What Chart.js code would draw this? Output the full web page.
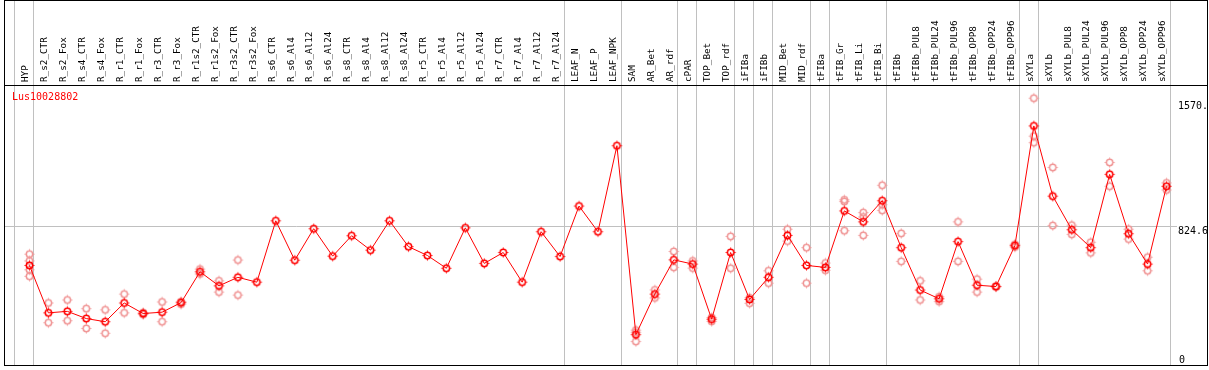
<!DOCTYPE html>
<html><head><meta charset="utf-8">
<script src="https://cdn.jsdelivr.net/npm/chart.js@4.4.1/dist/chart.umd.min.js"></script>
<style>html,body{margin:0;padding:0;background:#fff;overflow:hidden}#wrap{width:1209px;height:370px;position:relative}</style>
</head><body><div id="wrap"><canvas id="c"></canvas></div>
<script>
const geneTitle = 'Lus10028802';
const categories = ['HYP','R_s2_CTR','R_s2_Fox','R_s4_CTR','R_s4_Fox','R_r1_CTR','R_r1_Fox','R_r3_CTR','R_r3_Fox','R_r1s2_CTR','R_r1s2_Fox','R_r3s2_CTR','R_r3s2_Fox','R_s6_CTR','R_s6_Al4','R_s6_Al12','R_s6_Al24','R_s8_CTR','R_s8_Al4','R_s8_Al12','R_s8_Al24','R_r5_CTR','R_r5_Al4','R_r5_Al12','R_r5_Al24','R_r7_CTR','R_r7_Al4','R_r7_Al12','R_r7_Al24','LEAF_N','LEAF_P','LEAF_NPK','SAM','AR_Bet','AR_rdf','cPAR','TOP_Bet','TOP_rdf','iFIBa','iFIBb','MID_Bet','MID_rdf','tFIBa','tFIB_Gr','tFIB_Li','tFIB_Bi','tFIBb','tFIBb_PUL8','tFIBb_PUL24','tFIBb_PUL96','tFIBb_OPP8','tFIBb_OPP24','tFIBb_OPP96','sXYLa','sXYLb','sXYLb_PUL8','sXYLb_PUL24','sXYLb_PUL96','sXYLb_OPP8','sXYLb_OPP24','sXYLb_OPP96'];
const meanValues = [594,311,320,277,258,370,307,315,372,556,472,523,494,860,625,813,649,771,685,860,706,653,577,818,606,671,494,795,647,948,795,1308,181,423,627,602,273,671,391,523,773,594,582,919,854,980,700,447,395,736,476,468,712,1426,1007,807,700,1137,783,602,1066];
const replicateValues = [
  [661,621,568,529],[370,252],[388,264],[336,218],[329,189],[423,311],[313,301],[376,258],[378,363],[572,543],[502,435],[626,417],[],
  [],[],[],[],[],[],[],[],[],[],[],[],[],[],[],[],
  [],[],[],
  [208,195,140],[448,400],[677,582],[621,578],[283,260],[767,577],[401,368],[562,488],[810,739],[700,488],[608,565],
  [985,975,801],[909,883,773],[1072,956,922],[785,618],[502,388],[407,378],[854,618],[512,435],[470,466],[720,704],
  [1591,1365,1326],[1178,832],[834,779],[732,669],[1208,1066],[810,751],[643,562],[1086,1044]
];
const groupEnds = [-1,0,28,31,34,35,37,38,39,41,42,45,52,53,60];
const yTickValues = [824.6, 1570];
const yTickLabels = ['824.6', '1570.'];
const yZeroLabel = '0';

function makeMarker(color){
  const c = document.createElement('canvas'); c.width = 15; c.height = 15;
  const g = c.getContext('2d'); g.strokeStyle = color;
  g.lineWidth = 1.5; g.beginPath(); g.arc(7.5,7.5,3.2,0,Math.PI*2); g.stroke();
  g.lineWidth = 1; g.beginPath();
  g.moveTo(7.5,2.5); g.lineTo(7.5,3.8); g.moveTo(7.5,11.2); g.lineTo(7.5,12.5);
  g.moveTo(2.5,7.5); g.lineTo(3.8,7.5); g.moveTo(11.2,7.5); g.lineTo(12.5,7.5);
  g.stroke();
  return c;
}
const meanMarker = makeMarker('#ff0000');
const repMarker = makeMarker('rgb(240,150,150)');

const xMin = -1.2895, xMax = xMin + 1170/19;
const yMax = 1670;
const gridGrey = '#c0c0c0';
const monoFont = 'DejaVu Sans Mono';

const meanData = meanValues.map((v,i)=>({x:i, y:v}));
const repData = [];
replicateValues.forEach((arr,i)=>arr.forEach(v=>repData.push({x:i, y:v})));

function zeroPad(s){ s.paddingTop = 0; s.paddingBottom = 0; s.paddingLeft = 0; s.paddingRight = 0; }

const framePlugin = {
  id: 'frame',
  afterLayout(chart){
    const y = chart.scales.y, y0 = chart.scales.y0;
    y0.left = y.left; y0.right = y.right; y0.width = y.width;
  },
  afterDraw(chart, args, opts){
    const ctx = chart.ctx, a = chart.chartArea;
    const right = chart.scales.y.right;
    ctx.save();
    ctx.strokeStyle = '#000'; ctx.lineWidth = 1;
    ctx.strokeRect(a.left - 0.5, 0.5, right - a.left + 1, a.bottom);
    ctx.beginPath(); ctx.moveTo(a.left - 1, a.top + 0.5); ctx.lineTo(right + 1, a.top + 0.5); ctx.stroke();
    ctx.fillStyle = '#ff0000'; ctx.font = '10px "' + monoFont + '"';
    ctx.textBaseline = 'middle'; ctx.textAlign = 'left';
    ctx.fillText(opts.title, a.left + 7, a.top + 12.5);
    ctx.restore();
  }
};

new Chart(document.getElementById('c'), {
  type: 'line',
  data: { datasets: [
    { label: 'mean', data: meanData, borderColor: '#ff0000', borderWidth: 1, tension: 0,
      pointStyle: meanMarker, pointRadius: 4, pointHoverRadius: 4, xAxisID: 'x', yAxisID: 'y', order: 0 },
    { label: 'replicates', data: repData, showLine: false, borderColor: 'rgb(240,150,150)',
      pointStyle: repMarker, pointRadius: 4, pointHoverRadius: 4, xAxisID: 'x', yAxisID: 'y', order: 1 }
  ]},
  options: {
    responsive: true, maintainAspectRatio: false, animation: false,
    layout: { padding: { left: 2, right: 2, top: 0, bottom: 2 } },
    plugins: { legend: { display: false }, tooltip: { enabled: false }, title: { display: false },
      frame: { title: geneTitle } },
    scales: {
      x: { type: 'linear', position: 'top', weight: 1, min: xMin, max: xMax,
        afterBuildTicks: s => { s.ticks = categories.map((_, i) => ({ value: i })); },
        afterFit: s => { s.height = 85; zeroPad(s); },
        ticks: { autoSkip: false, minRotation: 90, maxRotation: 90, padding: 3, labelOffset: 7.5, color: '#000',
          font: { family: monoFont, size: 9.3 }, callback: v => categories[Math.round(v)] },
        grid: { display: false, drawTicks: false }, border: { display: false } },
      xg: { type: 'linear', position: 'top', weight: 0, min: xMin, max: xMax,
        afterBuildTicks: s => { s.ticks = groupEnds.map(e => ({ value: e + 0.22 })); },
        afterFit: s => { s.height = 0; zeroPad(s); },
        ticks: { display: false, autoSkip: false },
        grid: { color: gridGrey, lineWidth: 1, drawTicks: true, tickLength: 85 },
        border: { display: false } },
      y: { type: 'linear', position: 'right', weight: 1, min: 0, max: yMax,
        afterBuildTicks: s => { s.ticks = yTickValues.map(v => ({ value: v })); },
        afterFit: s => { s.width = 35; zeroPad(s); },
        ticks: { align: 'start', padding: 1, color: '#000', font: { family: monoFont, size: 10 },
          callback: v => yTickLabels[yTickValues.indexOf(v)] },
        grid: { color: c => (c.tick && c.tick.value === yTickValues[0]) ? gridGrey : 'rgba(0,0,0,0)',
          drawTicks: true, tickLength: 5 },
        border: { display: false } },
      y0: { type: 'linear', position: 'right', weight: 0, min: 0, max: yMax,
        afterBuildTicks: s => { s.ticks = [{ value: 0 }]; },
        afterFit: s => { s.width = 0; zeroPad(s); },
        ticks: { align: 'end', padding: 7, color: '#000', font: { family: monoFont, size: 10 },
          callback: () => yZeroLabel },
        grid: { display: false, drawTicks: false }, border: { display: false } }
    }
  },
  plugins: [framePlugin]
});
</script>
</body></html>
